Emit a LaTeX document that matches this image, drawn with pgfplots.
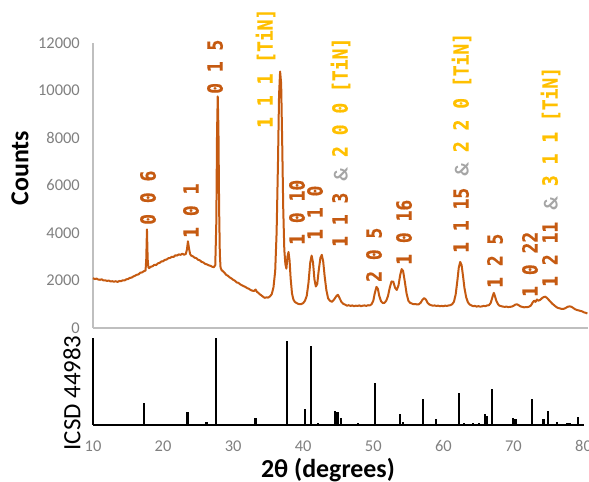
\documentclass[border=0pt]{standalone}
\usepackage{pgfplots}
\pgfplotsset{compat=1.18}
\usepackage{fontspec}
\setmainfont{Carlito}
\newfontfamily\labfont[FakeStretch=0.86,BoldFeatures={FakeBold=0.6}]{DejaVu Sans Mono}
\definecolor{rust}{RGB}{197,90,17}
\definecolor{gold}{RGB}{255,192,0}
\definecolor{ampgray}{RGB}{165,165,165}
\definecolor{tickgray}{RGB}{128,128,128}
\definecolor{axgray}{RGB}{191,191,191}
\newcommand\lab[3]{\node[rotate=90,anchor=west,inner sep=0pt,text height=15.3bp,text depth=0pt,font=\labfont\bfseries\fontsize{21}{23}\selectfont,text=rust] at ({#1*1bp},{(482-#2)*1bp}) {#3};}
\newcommand\amp{{\rmfamily\bfseries\fontsize{20}{22}\selectfont\color{ampgray}\&}}
\newcommand\tin[1]{\textcolor{gold}{#1}}
\begin{document}
\begin{tikzpicture}
\useasboundingbox (0,0) rectangle (589bp,482bp);
\begin{axis}[
 at={(93bp,154bp)}, anchor=south west,
 scale only axis, width=495bp, height=285bp,
 xmin=10, xmax=80.64, ymin=0, ymax=12000,
 axis x line=bottom, axis y line=left,
 axis line style={-, draw=axgray, line width=1.2bp},
 xtick=\empty,
 ytick={0,2000,...,12000},
 major tick length=0pt,
 scaled y ticks=false,
 /pgf/number format/assume math mode=true,
 /pgf/number format/1000 sep={},
 yticklabel style={anchor=east, inner sep=0pt, xshift=-13bp, font=\fontsize{16.5}{18}\selectfont, text=tickgray},
 clip=false,
]
\addplot[rust, line width=2bp, line join=round] table {
x y
10.0 2100
10.25 2060
10.5 2080
10.75 2040
11.0 2030
11.25 2050
11.5 2000
11.75 2010
12.0 1980
12.25 2000
12.5 1960
12.75 1970
13.0 1950
13.25 1970
13.5 1940
13.75 1980
14.0 1970
14.25 2010
14.5 2000
14.75 2050
15.0 2060
15.25 2110
15.5 2120
15.75 2170
16.0 2200
16.25 2240
16.5 2260
16.75 2330
17.0 2340
17.25 2390
17.5 2420
17.6 2900
17.7 4150
17.8 2900
17.9 2560
18.0 2520
18.25 2580
18.5 2600
18.75 2660
19.0 2650
19.25 2720
19.5 2740
19.75 2800
20.0 2810
20.25 2870
20.5 2880
20.75 2940
21.0 2950
21.25 3000
21.5 2990
21.75 3060
22.0 3050
22.25 3100
22.5 3080
22.75 3130
23.0 3080
23.25 3120
23.4 3300
23.55 3650
23.7 3350
23.85 3120
24.0 3050
24.25 3020
24.5 2960
24.75 2940
25.0 2870
25.25 2850
25.5 2780
25.75 2760
26.0 2700
26.25 2680
26.5 2640
26.75 2620
27.0 2580
27.25 2560
27.45 2650
27.6 4500
27.7 8200
27.8 9750
27.9 8400
28.0 5000
28.1 3100
28.2 2550
28.35 2440
28.5 2400
28.75 2330
29.0 2240
29.25 2200
29.5 2130
29.75 2090
30.0 2030
30.25 1990
30.5 1920
30.75 1900
31.0 1840
31.25 1800
31.5 1760
31.75 1730
32.0 1680
32.25 1650
32.5 1600
32.75 1570
33.0 1560
33.2 1620
33.4 1520
33.6 1480
33.8 1420
34.0 1380
34.25 1320
34.5 1270
34.75 1290
35.0 1280
35.25 1330
35.5 1420
35.75 1700
36.0 2400
36.2 4000
36.4 7000
36.55 9800
36.7 10800
36.85 10300
37.0 7800
37.15 5000
37.3 3300
37.45 2700
37.6 2500
37.75 3000
37.9 3200
38.05 2850
38.2 2100
38.4 1450
38.6 1200
38.8 1100
39.0 1060
39.25 1020
39.5 1000
39.75 1010
40.0 1050
40.25 1150
40.5 1350
40.75 1900
41.0 2750
41.2 3050
41.4 2750
41.6 2050
41.8 1750
42.0 1850
42.2 2400
42.45 2950
42.65 3080
42.85 2800
43.05 2200
43.3 1600
43.55 1250
43.8 1150
44.1 1100
44.4 1200
44.7 1330
44.95 1400
45.2 1250
45.45 1100
45.7 1020
46.0 980
46.25 940
46.5 960
46.75 930
47.0 950
47.25 920
47.5 940
47.75 930
48.0 950
48.25 920
48.5 940
48.75 950
49.0 930
49.25 960
49.5 950
49.75 1000
50.0 1150
50.2 1450
50.45 1730
50.65 1650
50.85 1350
51.1 1130
51.35 1050
51.6 1060
51.85 1150
52.1 1350
52.35 1700
52.6 1960
52.85 1950
53.1 1700
53.35 1600
53.6 1800
53.85 2250
54.05 2480
54.25 2400
54.5 1950
54.75 1450
55.0 1150
55.25 1060
55.5 1030
55.75 1000
56.0 1010
56.25 990
56.5 1000
56.75 1060
57.0 1180
57.25 1260
57.5 1200
57.75 1060
58.0 990
58.25 960
58.5 940
58.75 950
59.0 930
59.25 940
59.5 920
59.75 930
60.0 920
60.25 940
60.5 930
60.75 950
61.0 960
61.25 1000
61.5 1100
61.75 1400
62.0 2000
62.2 2550
62.4 2780
62.6 2650
62.8 2200
63.0 1700
63.25 1300
63.5 1080
63.75 990
64.0 950
64.25 920
64.5 930
64.75 900
65.0 920
65.25 900
65.5 910
65.75 930
66.0 920
66.25 950
66.5 960
66.75 1050
67.0 1300
67.2 1480
67.35 1350
67.55 1150
67.8 1000
68.0 940
68.25 920
68.5 900
68.75 890
69.0 900
69.25 880
69.5 890
69.75 900
70.0 930
70.25 980
70.5 1000
70.75 960
71.0 910
71.25 890
71.5 870
71.75 880
72.0 880
72.25 900
72.5 950
72.75 1080
72.95 1150
73.15 1100
73.35 1200
73.55 1150
73.8 1180
74.05 1250
74.3 1300
74.55 1320
74.8 1260
75.05 1180
75.3 1100
75.55 1020
75.8 960
76.05 900
76.3 850
76.55 830
76.8 810
77.05 800
77.3 820
77.55 860
77.8 900
78.05 910
78.3 890
78.55 840
78.8 790
79.05 760
79.3 740
79.55 720
79.8 700
80.05 660
80.3 640
80.55 610
};
\end{axis}
\begin{axis}[
 at={(93bp,57bp)}, anchor=south west,
 scale only axis, width=490.5bp, height=87bp,
 xmin=10, xmax=80, ymin=0, ymax=100,
 axis x line=bottom, axis y line=left,
 axis line style={-, draw=black, line width=1.2bp},
 x axis line style={line width=2bp},
 xtick={10,20,...,80},
 ytick=\empty,
 major tick length=0pt,
 /pgf/number format/assume math mode=true,
 xticklabel style={anchor=center, inner sep=0pt, yshift=-21bp, font=\fontsize{16.5}{18}\selectfont, text=tickgray},
 clip=false,
]
\addplot[ycomb, black, line width=2.2bp] table {
x y
17.3 25
23.5 15
26.2 3
27.6 100
33.2 8
37.7 96
40.2 18
41.1 91
42.1 2
44.5 16
44.9 15
45.4 8
47.8 2
50.2 48
53.8 13
54.2 4
57.1 30
58.9 7
62.2 37
62.9 2
64.2 2
65.1 2
65.9 13
66.2 10
66.9 41
69.9 8
70.3 7
72.7 30
74.3 7
74.9 16
76.2 4
77.6 2
78.0 2
79.2 9
};
\end{axis}
\node[rotate=90, font=\bfseries\fontsize{26}{28}\selectfont] at (20bp,314bp) {Counts};
\node[rotate=90, font=\fontsize{25}{27}\selectfont] at (72bp,89bp) {ICSD 44983};
\node[anchor=base, inner sep=0pt, font=\bfseries\fontsize{26}{28}\selectfont] at (328bp,5bp) {2θ (degrees)};
\lab{148}{225}{0 0 6}
\lab{191}{238}{1 0 1}
\lab{215}{94}{0 1 5}
\lab{265}{128}{\tin{1 1 1 [TiN]}}
\lab{297}{245}{1 0 10}
\lab{315}{240}{1 1 0}
\lab{340}{247}{1 1 3 \amp{} \tin{2 0 0 [TiN]}}
\lab{374}{282}{2 0 5}
\lab{404}{265}{1 0 16}
\lab{461}{253}{1 1 15 \amp{} \tin{2 2 0 [TiN]}}
\lab{495}{288}{1 2 5}
\lab{530}{297}{1 0 22}
\lab{550}{287}{1 2 11 \amp{} \tin{3 1 1 [TiN]}}
\end{tikzpicture}
\end{document}
